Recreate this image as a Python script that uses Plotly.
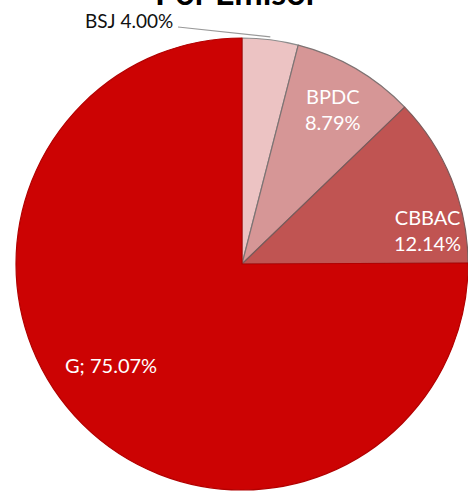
import math
import plotly.graph_objects as go

# Share of holdings by issuer
issuers = ["BSJ", "BPDC", "CBBAC", "G"]
shares = [4.00, 8.79, 12.14, 75.07]
slice_colors = ["#ECC3C3", "#D69696", "#C05452", "#CC0303"]
edge_colors = ["#8C8C8C", "#7E7373", "#7A5A5A", "#B20000"]
title_text = "Por Emisor"

W, H = 468, 494
LEFT, CY, R = 16, 264, 226  # pie left edge, centre row and radius in pixels
CX = LEFT + R

fig = go.Figure(
    go.Pie(
        labels=issuers,
        values=shares,
        sort=False,
        direction="clockwise",
        rotation=0,
        marker=dict(colors=slice_colors, line=dict(color=edge_colors, width=1.2)),
        textinfo="none",
        hoverinfo="label+percent",
        showlegend=False,
        domain=dict(x=[LEFT / W, 1.0],
                    y=[(H - CY - R) / H, (H - CY + R) / H]),
    )
)

def px(x):
    return x / W

def py(y):
    return 1 - y / H

label_font = dict(family="Lato, Open Sans, sans-serif", size=20, color="white")
annotations = []

# inside labels
inside = {
    "BPDC": (333, 109, "{n}<br>{v:.2f}%"),
    "CBBAC": (427, 230, "{n}<br>{v:.2f}%"),
    "G": (111, 365, "{n}; {v:.2f}%"),
}
for name, val in zip(issuers, shares):
    if name in inside:
        x, y, fmt = inside[name]
        annotations.append(dict(
            x=px(x), y=py(y), xref="paper", yref="paper", showarrow=False,
            xanchor="center", yanchor="middle",
            text=fmt.format(n=name, v=val), font=label_font, align="center",
        ))

# outside label for the smallest slice, with a leader line to its arc midpoint
mid_angle = math.radians(shares[0] / sum(shares) * 360 / 2)
ex, ey = CX + R * math.sin(mid_angle), CY - R * math.cos(mid_angle) - 3
annotations.append(dict(
    x=px(175), y=py(20), xref="paper", yref="paper", showarrow=False,
    xanchor="right", yanchor="middle", text=f"{issuers[0]} {shares[0]:.2f}%",
    font=dict(family="Lato, Open Sans, sans-serif", size=19, color="#111111"),
))
fig.add_shape(type="line", xref="paper", yref="paper",
              x0=px(178), y0=py(27), x1=px(ex), y1=py(ey),
              line=dict(color="#999999", width=1.2))

# title, sitting mostly above the top edge
annotations.append(dict(
    x=px(237), y=py(14), xref="paper", yref="paper", showarrow=False,
    xanchor="center", yanchor="bottom", text=f"<b>{title_text}</b>",
    font=dict(family="Lato, Open Sans, sans-serif", size=34, color="#000000"),
))

fig.update_layout(
    width=W, height=H,
    margin=dict(l=0, r=0, t=0, b=0),
    paper_bgcolor="white", plot_bgcolor="white",
    annotations=annotations,
)

fig.write_html("out.html")
